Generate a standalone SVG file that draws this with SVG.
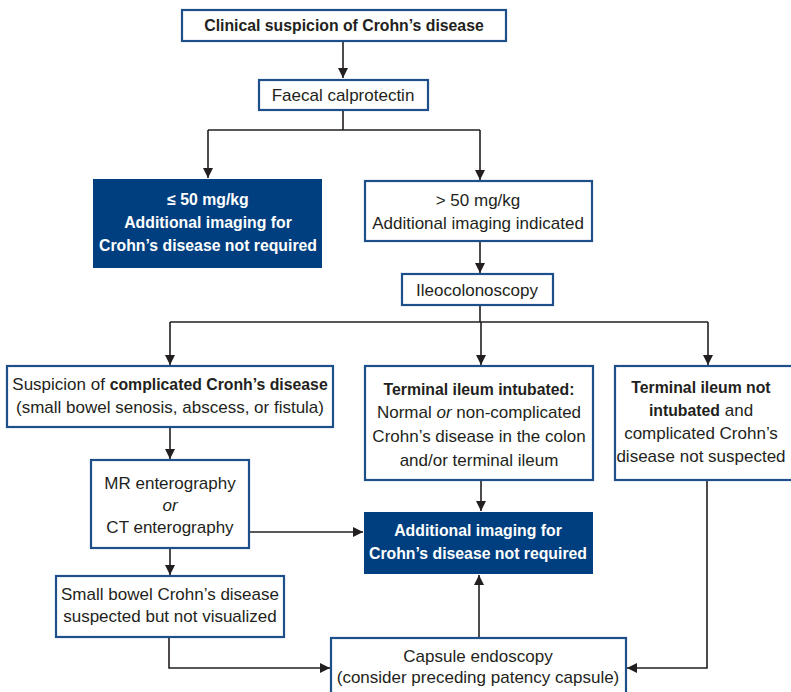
<svg xmlns="http://www.w3.org/2000/svg" width="791" height="692" viewBox="0 0 791 692">
<defs>
<marker id="ah" viewBox="0 0 10 10" refX="10" refY="5" markerWidth="10" markerHeight="10" markerUnits="userSpaceOnUse" orient="auto">
<path d="M0,0 L10,5 L0,10 z" fill="#231f20"/>
</marker>
<style>
.box{fill:#fff;stroke:#1d4f8b;stroke-width:2.2}
.dark{fill:#003f7f;stroke:none}
.t{font-family:"Liberation Sans",Arial,sans-serif;font-size:17px;fill:#231f20;text-anchor:middle}
.w{fill:#fff;font-weight:bold;font-size:15.8px}
.b{font-weight:bold;font-size:15.8px}
.c{fill:none;stroke:#231f20;stroke-width:1.6}
</style>
</defs>
<g id="connectors">
<path class="c" d="M343,41 V78" marker-end="url(#ah)"/>
<path class="c" d="M343,110 V130 M208,130 H480"/>
<path class="c" d="M208,130 V178" marker-end="url(#ah)"/>
<path class="c" d="M480,130 V180" marker-end="url(#ah)"/>
<path class="c" d="M480,241 V273" marker-end="url(#ah)"/>
<path class="c" d="M480,305 V322 M170,322 H708"/>
<path class="c" d="M170,322 V365" marker-end="url(#ah)"/>
<path class="c" d="M481,322 V365" marker-end="url(#ah)"/>
<path class="c" d="M708,322 V365" marker-end="url(#ah)"/>
<path class="c" d="M170,427 V459" marker-end="url(#ah)"/>
<path class="c" d="M249,532 H363" marker-end="url(#ah)"/>
<path class="c" d="M481,480 V511" marker-end="url(#ah)"/>
<path class="c" d="M170,548 V575" marker-end="url(#ah)"/>
<path class="c" d="M169,637 V668 H330" marker-end="url(#ah)"/>
<path class="c" d="M479,638 V575" marker-end="url(#ah)"/>
<path class="c" d="M707,480 V668 H627" marker-end="url(#ah)"/>
</g>
<g id="clinical">
<rect class="box" x="182" y="10" width="324" height="31"/>
<text class="t b" x="344" y="31">Clinical suspicion of Crohn’s disease</text>
</g>
<g id="faecal">
<rect class="box" x="259" y="80" width="169" height="30"/>
<text class="t" x="343" y="101">Faecal calprotectin</text>
</g>
<g id="low">
<rect class="dark" x="93" y="179" width="229" height="89"/>
<text class="t w" x="208" y="205">≤ 50 mg/kg</text>
<text class="t w" x="208" y="228">Additional imaging for</text>
<text class="t w" x="208" y="251">Crohn’s disease not required</text>
</g>
<g id="high">
<rect class="box" x="365" y="181" width="227" height="60"/>
<text class="t" x="478" y="206">&gt; 50 mg/kg</text>
<text class="t" x="478" y="229">Additional imaging indicated</text>
</g>
<g id="ileo">
<rect class="box" x="402" y="274" width="151" height="31"/>
<text class="t" x="477" y="296">Ileocolonoscopy</text>
</g>
<g id="complicated">
<rect class="box" x="7" y="366" width="326" height="61"/>
<text class="t" x="170" y="390">Suspicion of <tspan class="b">complicated Cronh’s disease</tspan></text>
<text class="t" x="170" y="413">(small bowel senosis, abscess, or fistula)</text>
</g>
<g id="intubated">
<rect class="box" x="365" y="366" width="228" height="114"/>
<text class="t b" x="479" y="395">Terminal ileum intubated:</text>
<text class="t" x="479" y="418">Normal <tspan font-style="italic">or</tspan> non-complicated</text>
<text class="t" x="479" y="442">Crohn’s disease in the colon</text>
<text class="t" x="479" y="466">and/or terminal ileum</text>
</g>
<g id="notintubated">
<rect class="box" x="615" y="366" width="190" height="114"/>
<text class="t b" x="701" y="393">Terminal ileum not</text>
<text class="t" x="701" y="416"><tspan class="b">intubated</tspan> and</text>
<text class="t" x="701" y="439">complicated Crohn’s</text>
<text class="t" x="701" y="462" font-size="16.6">disease not suspected</text>
</g>
<g id="mr">
<rect class="box" x="91" y="460" width="158" height="88"/>
<text class="t" x="170" y="489">MR enterography</text>
<text class="t" x="170" y="511" font-style="italic">or</text>
<text class="t" x="170" y="533">CT enterography</text>
</g>
<g id="notrequired">
<rect class="dark" x="364" y="512" width="229" height="62"/>
<text class="t w" x="478" y="536">Additional imaging for</text>
<text class="t w" x="478" y="559">Crohn’s disease not required</text>
</g>
<g id="smallbowel">
<rect class="box" x="56" y="576" width="228" height="61"/>
<text class="t" x="170" y="600">Small bowel Crohn’s disease</text>
<text class="t" x="170" y="622">suspected but not visualized</text>
</g>
<g id="capsule">
<rect class="box" x="331" y="638" width="295" height="70"/>
<text class="t" x="478" y="662">Capsule endoscopy</text>
<text class="t" x="478" y="683">(consider preceding patency capsule)</text>
</g>
</svg>
